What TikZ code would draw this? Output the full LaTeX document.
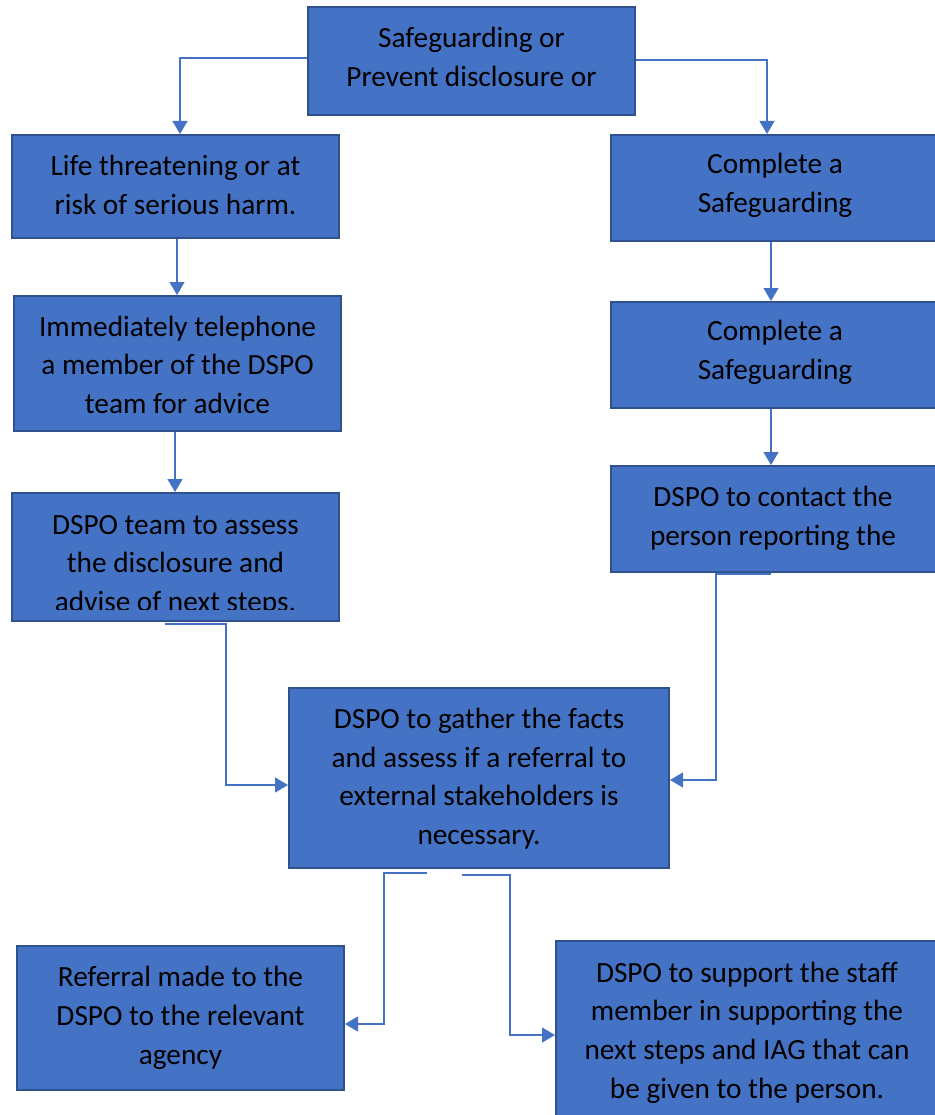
\documentclass[tikz,border=0pt]{standalone}
\usepackage{fontspec}
\setmainfont{Carlito}
\usetikzlibrary{arrows.meta,calc}
\definecolor{boxfill}{HTML}{4472C4}
\definecolor{boxline}{HTML}{2F528F}
\definecolor{connc}{HTML}{4472C4}
\tikzset{
  box/.style={draw=boxline,fill=boxfill,line width=2pt,inner sep=0pt,rectangle},
  txt/.style={align=center,inner sep=0pt,font=\fontsize{29.3}{38.6}\selectfont,text=black,anchor=base},
  conn/.style={draw=connc,line width=1.3pt,-{Triangle[length=13pt,width=15pt]}},
}
\begin{document}
\begin{tikzpicture}[x=1pt,y=-1pt]
\useasboundingbox (0,0) rectangle (934,1115);
% boxes
\node[box,minimum width=327pt,minimum height=108pt] (top) at (471.5,61) {};
\node[box,minimum width=327pt,minimum height=103pt] (l1) at (175.5,186.5) {};
\node[box,minimum width=327pt,minimum height=135pt] (l2) at (177.5,363.5) {};
\node[box,minimum width=327pt,minimum height=128pt] (l3) at (175.5,557) {};
\node[box,minimum width=327pt,minimum height=106pt] (r1) at (774.5,188) {};
\node[box,minimum width=327pt,minimum height=106pt] (r2) at (774.5,355) {};
\node[box,minimum width=327pt,minimum height=106pt] (r3) at (774.5,519) {};
\node[box,minimum width=380pt,minimum height=180pt] (mid) at (479,778) {};
\node[box,minimum width=327pt,minimum height=144pt] (bl) at (180.5,1018) {};
\node[box,minimum width=382pt,minimum height=180pt] (br) at (747,1031) {};
% texts (anchored at the baseline of the last line)
\node[txt] (ttop) at (471.5,86.5) {Safeguarding or\\Prevent disclosure or};
\node[txt] (tl1) at (175.5,214.5) {Life threatening or at\\risk of serious harm.};
\node[txt] (tl2) at (177.5,413.5) {Immediately telephone\\a member of the DSPO\\team for advice};
\begin{scope}
\clip (10,491) rectangle (341,609.5);
\node[txt] (tl3) at (175.5,611.5) {DSPO team to assess\\the disclosure and\\advise of next steps.};
\end{scope}
\node[txt] (tr1) at (775,212.5) {Complete a\\Safeguarding};
\node[txt] (tr2) at (775,379) {Complete a\\Safeguarding};
\node[txt] (tr3) at (773,545.5) {DSPO to contact the\\person reporting the};
\node[txt] (tmid) at (479,844.5) {DSPO to gather the facts\\and assess if a referral to\\external stakeholders is\\necessary.};
\node[txt] (tbl) at (180.5,1064) {Referral made to the\\DSPO to the relevant\\agency};
\node[txt] (tbr) at (747,1098) {DSPO to support the staff\\member in supporting the\\next steps and IAG that can\\be given to the person.};
% bend points
\coordinate (b1) at (226,623);
\coordinate (b2) at (716,573);
\coordinate (b3) at (384,872);
\coordinate (b4) at (510,874);
% connectors
\draw[conn] ([yshift=3pt]top.west) -| ([xshift=4.5pt]l1.north);
\draw[conn] ([yshift=1pt]top.east) -| ([xshift=-7.5pt]r1.north);
\draw[conn] ([xshift=1.5pt]l1.south) -- ([xshift=1.5pt]l1.south |- l2.north);
\draw[conn] ([xshift=-2.5pt]l2.south) -- ([xshift=-2.5pt]l2.south |- l3.north);
\draw[conn] ([xshift=-3.5pt]r1.south) -- ([xshift=-3.5pt]r1.south |- r2.north);
\draw[conn] ([xshift=-3.5pt]r2.south) -- ([xshift=-3.5pt]r2.south |- r3.north);
\draw[conn] ([xshift=-10.5pt,yshift=-2pt]l3.south) -| (b1) |- ([yshift=-7pt]mid.west);
\draw[conn] ([xshift=-3.5pt,yshift=-1pt]r3.south) -| (b2) |- ([yshift=-2pt]mid.east);
\draw[conn] ([xshift=-52pt,yshift=-4pt]mid.south) -| (b3) |- ([yshift=-6pt]bl.east);
\draw[conn] ([xshift=-17pt,yshift=-6pt]mid.south) -| (b4) |- ([yshift=-4pt]br.west);
\end{tikzpicture}
\end{document}
